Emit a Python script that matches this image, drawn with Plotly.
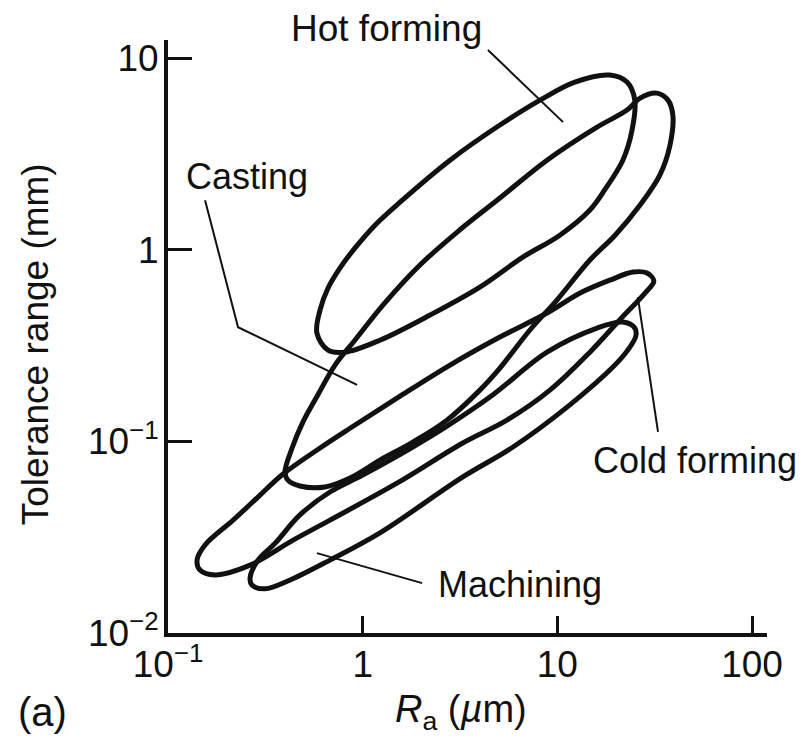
import math
import plotly.graph_objects as go

# ---------------- axis ticks ----------------
x_tickvals = [0.1, 1, 10, 100]
x_ticktext = ["10<sup>−1</sup>", "1", "10", "100"]
y_tickvals = [0.01, 0.1, 1, 10]
y_ticktext = ["10<sup>−2</sup>", "10<sup>−1</sup>", "1", "10"]

# ---------------- process envelopes (Ra in um, tolerance in mm) ----------------
hot_ra = [0.582, 0.604, 0.664, 0.764, 0.912, 1.157, 1.556, 2.81, 5.07, 8.15, 12.3, 18.6, 22.8, 25.0,
          24.2, 21.7, 17.5, 14.7, 10.3, 6.65, 4.00, 2.22, 1.227, 0.811, 0.664]
hot_tol = [0.367, 0.484, 0.631, 0.802, 1.019, 1.343, 1.77, 2.93, 4.47, 6.03, 7.49, 8.15, 7.49, 6.03,
           4.21, 2.93, 2.05, 1.61, 1.19, 0.914, 0.638, 0.456, 0.337, 0.292, 0.299]

cast_ra = [0.399, 0.434, 0.493, 0.589, 0.721, 0.912, 1.271, 1.97, 3.16, 5.07, 8.85, 16.0, 22.8,
           26.6, 32.5, 37.0, 39.2, 37.9, 33.6, 26.6, 19.8, 14.7, 9.95, 7.23, 5.07, 4.00, 2.71,
           1.81, 1.227, 0.861, 0.640, 0.476, 0.413]
cast_tol = [0.0692, 0.0923, 0.126, 0.175, 0.250, 0.337, 0.514, 0.832, 1.27, 1.86, 2.93, 4.36, 5.35,
            6.18, 6.56, 6.03, 5.04, 3.51, 2.45, 1.71, 1.19, 0.883, 0.546, 0.381, 0.241, 0.185, 0.129,
            0.0991, 0.0798, 0.0644, 0.0578, 0.0585, 0.0628]

cold_ra = [0.141, 0.155, 0.216, 0.290, 0.390, 0.604, 0.861, 1.556, 2.81, 5.07, 8.85, 13.1, 18.6,
           24.5, 28.9, 31.3, 28.2, 20.9, 14.7, 9.16, 5.51, 3.27, 1.50, 0.679, 0.439, 0.264,
           0.174, 0.146]
cold_tol = [0.0240, 0.0288, 0.0388, 0.0512, 0.0675, 0.0923, 0.117, 0.172, 0.250, 0.350, 0.467, 0.594,
            0.693, 0.764, 0.755, 0.685, 0.594, 0.430, 0.292, 0.185, 0.129, 0.098, 0.0605,
            0.0388, 0.0305, 0.0226, 0.0201, 0.0213]

mach_ra = [0.264, 0.290, 0.355, 0.476, 0.679, 1.00, 1.81, 2.71, 4.67, 8.85, 16.0, 21.7, 25.0,
           25.3, 23.0, 19.3, 11.6, 5.92, 3.27, 1.227, 0.679, 0.424, 0.315, 0.270]
mach_tol = [0.0194, 0.0240, 0.0294, 0.0413, 0.0544, 0.0667, 0.0934, 0.120, 0.175, 0.292, 0.390, 0.419,
            0.390, 0.354, 0.299, 0.244, 0.155, 0.0934, 0.0652, 0.0333, 0.0240, 0.0189, 0.0170, 0.0178]

# ---------------- labels and leader lines ----------------
labels = ["Casting", "Cold forming", "Machining"]
label_ra = [0.255, 50.9, 6.43]       # label centres
label_tol = [2.42, 0.0798, 0.0180]

hot_lead_ra = [4.40, 10.7]
hot_lead_tol = [11.0, 4.63]
cast_lead_ra = [0.155, 0.229, 0.936]
cast_lead_tol = [1.81, 0.394, 0.197]
cold_lead_ra = [32.9, 25.9]
cold_lead_tol = [0.112, 0.566]
mach_lead_ra = [2.02, 0.582]
mach_lead_tol = [0.0182, 0.0261]

FONT = "Liberation Sans, Arial, Helvetica, sans-serif"
INK = "#111111"

fig = go.Figure()


def loop(xs, ys):
    fig.add_trace(go.Scatter(
        x=xs + xs[:1], y=ys + ys[:1], mode="lines",
        line=dict(color=INK, width=5, shape="spline", smoothing=1.0),
        hoverinfo="skip", showlegend=False))


def leader(xs, ys):
    fig.add_trace(go.Scatter(
        x=xs, y=ys, mode="lines", line=dict(color=INK, width=2),
        hoverinfo="skip", showlegend=False))


loop(hot_ra, hot_tol)
loop(cast_ra, cast_tol)
loop(cold_ra, cold_tol)
loop(mach_ra, mach_tol)

leader(hot_lead_ra, hot_lead_tol)
leader(cast_lead_ra, cast_lead_tol)
leader(cold_lead_ra, cold_lead_tol)
leader(mach_lead_ra, mach_lead_tol)

annotations = []
for t, xr, yr in zip(labels, label_ra, label_tol):
    annotations.append(dict(x=math.log10(xr), y=math.log10(yr), xref="x", yref="y",
                            text=t, showarrow=False, xanchor="center", yanchor="middle",
                            font=dict(family=FONT, size=36, color=INK)))

annotations += [
    dict(x=0.3656, y=1.0202, xref="paper", yref="paper", text="Hot forming", showarrow=False,
         xanchor="center", yanchor="middle", font=dict(family=FONT, size=37, color=INK)),
    dict(x=-0.210, y=-0.133, xref="paper", yref="paper", text="(a)", showarrow=False,
         xanchor="center", yanchor="middle", font=dict(family=FONT, size=40, color=INK)),
    dict(x=0.489, y=-0.133, xref="paper", yref="paper",
         text="<i>R</i><sub>a</sub> (<i>µ</i>m)", showarrow=False,
         xanchor="center", yanchor="middle", font=dict(family=FONT, size=38, color=INK)),
    dict(x=-0.222, y=0.487, xref="paper", yref="paper", text="Tolerance range (mm)",
         textangle=-90, showarrow=False, xanchor="center", yanchor="middle",
         font=dict(family=FONT, size=37, color=INK)),
]

fig.update_layout(
    width=805, height=740,
    margin=dict(l=160, r=46, t=32, b=115),
    paper_bgcolor="white", plot_bgcolor="white",
    showlegend=False,
    annotations=annotations,
    xaxis=dict(type="log", range=[-1, 2.077], showgrid=False, zeroline=False,
               showline=True, linecolor=INK, linewidth=4,
               ticks="inside", ticklen=17, tickwidth=3, tickcolor=INK,
               tickvals=x_tickvals, ticktext=x_ticktext, ticklabelstandoff=-4,
               tickfont=dict(family=FONT, size=37, color=INK)),
    yaxis=dict(type="log", range=[-2, 1.094], showgrid=False, zeroline=False,
               showline=True, linecolor=INK, linewidth=4,
               ticks="inside", ticklen=24, tickwidth=3, tickcolor=INK,
               tickvals=y_tickvals, ticktext=y_ticktext, ticklabelstandoff=-2,
               tickfont=dict(family=FONT, size=37, color=INK)),
)

fig.write_html("out.html")
